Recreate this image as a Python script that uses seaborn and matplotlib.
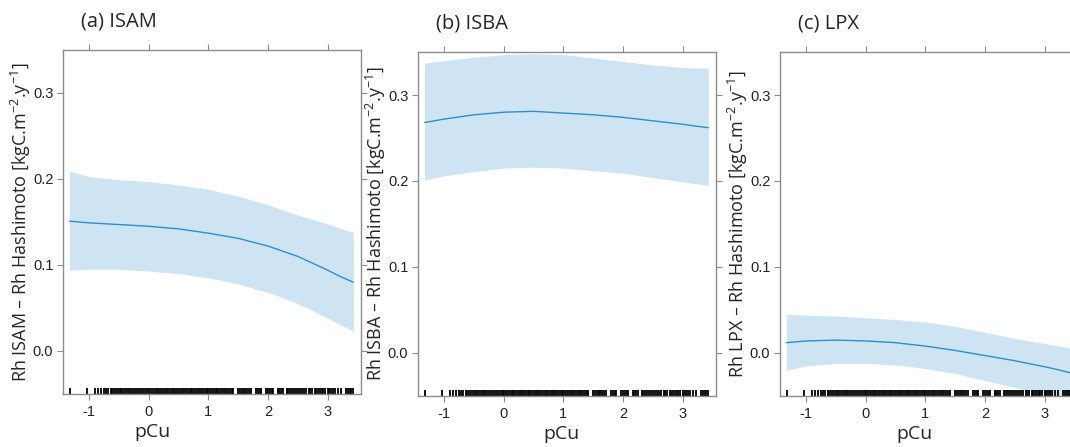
import matplotlib

matplotlib.use("Agg")
import matplotlib.pyplot as plt
import pandas as pd
import seaborn as sns

# smooth-term estimate, on a common pCu grid
pcu = [-1.33, -1.0, -0.5, 0.0, 0.5, 1.0, 1.5, 2.0, 2.25, 2.5, 2.75, 3.0, 3.2, 3.43]

isam_fit = [0.151, 0.149, 0.147, 0.145, 0.142, 0.137, 0.131, 0.122, 0.116, 0.110, 0.102, 0.094, 0.087, 0.080]
isam_upper = [0.209, 0.203, 0.199, 0.197, 0.193, 0.188, 0.180, 0.170, 0.164, 0.158, 0.153, 0.148, 0.143, 0.138]
isam_lower = [0.094, 0.095, 0.095, 0.093, 0.090, 0.085, 0.078, 0.068, 0.062, 0.055, 0.047, 0.038, 0.031, 0.023]

isba_fit = [0.268, 0.272, 0.277, 0.280, 0.281, 0.279, 0.277, 0.274, 0.272, 0.270, 0.268, 0.266, 0.264, 0.262]
isba_upper = [0.337, 0.340, 0.344, 0.347, 0.348, 0.347, 0.343, 0.339, 0.337, 0.335, 0.3335, 0.332, 0.3315, 0.331]
isba_lower = [0.201, 0.206, 0.211, 0.215, 0.216, 0.215, 0.212, 0.209, 0.2065, 0.204, 0.2015, 0.199, 0.197, 0.195]

lpx_fit = [0.012, 0.014, 0.015, 0.014, 0.012, 0.008, 0.003, -0.003, -0.006, -0.009, -0.0125, -0.016, -0.019, -0.023]
lpx_upper = [0.045, 0.044, 0.043, 0.041, 0.039, 0.036, 0.031, 0.024, 0.0205, 0.017, 0.014, 0.011, 0.0087, 0.006]
lpx_lower = [-0.020, -0.015, -0.012, -0.012, -0.014, -0.018, -0.024, -0.032, -0.036, -0.040, -0.0445, -0.049, -0.053, -0.058]

# observed pCu values (rug)
rug_pcu = [
    -1.33, -1.04, -0.90, -0.85, -0.80, -0.76, -0.72, -0.68, -0.64, -0.61, -0.58,
    -0.55, -0.52, -0.49, -0.46, -0.43, -0.40, -0.37, -0.34, -0.31, -0.28, -0.25,
    -0.22, -0.19, -0.14, -0.11, -0.08, -0.05, -0.02, 0.01, 0.04, 0.07, 0.10, 0.13,
    0.16, 0.19, 0.22, 0.25, 0.28, 0.31, 0.34, 0.37, 0.40, 0.43, 0.46, 0.49, 0.52,
    0.55, 0.58, 0.61, 0.64, 0.67, 0.70, 0.73, 0.76, 0.79, 0.82, 0.85, 0.88, 0.91,
    0.94, 0.97, 1.00, 1.03, 1.06, 1.09, 1.12, 1.15, 1.18, 1.21, 1.24, 1.27, 1.30,
    1.33, 1.36, 1.39, 1.42, 1.50, 1.53, 1.56, 1.59, 1.62, 1.65, 1.68, 1.71, 1.80,
    1.83, 1.86, 1.89, 1.97, 2.00, 2.03, 2.06, 2.09, 2.16, 2.19, 2.22, 2.25, 2.31,
    2.34, 2.37, 2.40, 2.43, 2.47, 2.50, 2.53, 2.57, 2.60, 2.64, 2.68, 2.70, 2.74,
    2.78, 2.81, 2.84, 2.87, 2.90, 2.93, 2.96, 3.00, 3.03, 3.06, 3.09, 3.13, 3.17,
    3.22, 3.30, 3.34, 3.37, 3.40, 3.43,
]

panels = [
    ("(a) ISAM", "ISAM", isam_fit, isam_lower, isam_upper),
    ("(b) ISBA", "ISBA", isba_fit, isba_lower, isba_upper),
    ("(c) LPX", "LPX", lpx_fit, lpx_lower, lpx_upper),
]
lefts = [63, 418, 780]
tops = [50, 52, 52]
xlab_x = [0.30, 0.483, 0.45]

W, H = 1070, 447
sns.set_style("white")
plt.rcParams["font.family"] = ["Liberation Sans", "DejaVu Sans"]
plt.rcParams["axes.unicode_minus"] = False
plt.rcParams["mathtext.default"] = "regular"

fig = plt.figure(figsize=(W / 100, H / 100), dpi=100)

frame_col = "#8c8c8c"
band_col = "#cfe4f3"
line_col = "#2b8fd3"
label_font = ["Open Sans", "DejaVu Sans"]

for (title, model, fit, lo, hi), left, top, lx in zip(panels, lefts, tops, xlab_x):
    ax = fig.add_axes([left / W, 1 - (top + 344) / H, 298 / W, 344 / H])
    df = pd.DataFrame({"pCu": pcu, "fit": fit, "lo": lo, "hi": hi})

    ax.fill_between(df["pCu"], df["lo"], df["hi"], color=band_col, lw=0)
    sns.lineplot(data=df, x="pCu", y="fit", color=line_col, lw=1.0, ax=ax)
    sns.rugplot(x=rug_pcu, height=0.018, color="black", linewidth=1.3, ax=ax)

    ax.set_xlim(-1.44, 3.56)
    ax.set_ylim(-0.05, 0.35)
    ax.set_xticks([-1, 0, 1, 2, 3])
    ax.set_yticks([0.0, 0.1, 0.2, 0.3])
    ax.set_yticklabels(["0.0", "0.1", "0.2", "0.3"])
    ax.tick_params(axis="both", which="both", direction="out", length=4, width=0.8,
                   color=frame_col, labelsize=10.5, labelcolor="#222222",
                   top=True, right=True, bottom=True, left=True,
                   labeltop=False, labelright=False)
    ax.tick_params(axis="x", pad=4)
    ax.tick_params(axis="y", pad=3)
    for sp in ax.spines.values():
        sp.set_color(frame_col)
        sp.set_linewidth(1.0)

    ax.set_xlabel("pCu", fontsize=14, family=label_font)
    ax.xaxis.set_label_coords(lx, -0.085)
    ax.set_ylabel(f"Rh {model} \u2013 Rh Hashimoto [kgC.m$^{{-2}}$.y$^{{-1}}$]",
                  fontsize=13, family=label_font, labelpad=0)
    ax.text(0.06, 1.055, title, transform=ax.transAxes, fontsize=14.5,
            family=label_font, ha="left", va="bottom")

fig.savefig("out.png", dpi=100)
plt.close(fig)
